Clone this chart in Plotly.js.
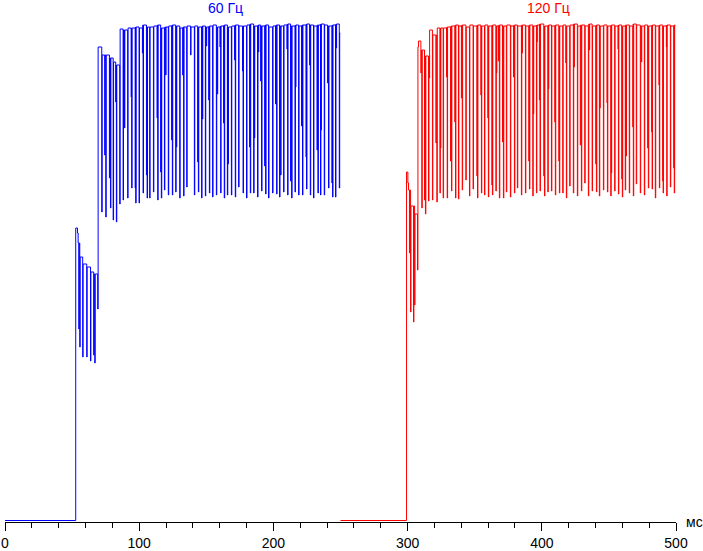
<!DOCTYPE html>
<html>
<head>
<meta charset="utf-8">
<script src="https://cdn.plot.ly/plotly-3.0.1.min.js"></script>
<style>html,body{margin:0;padding:0;background:#fff;}#chart{width:703px;height:551px;}</style>
</head>
<body>
<div id="chart"></div>
<script>
// Time (ms) at which each event starts, value reached during the dip, and level held after it.
const blueT = [0, 52.7, 54.0, 54.5, 55.0, 55.7, 57.9, 60.9, 63.7, 66.1, 66.9, 69.1,
  72.1, 74.3, 75.1, 77.8, 78.6, 80.6, 82.5, 83.0, 85.5, 88.0, 89.0, 91.4, 94.0, 94.4, 97.0, 97.4, 99.9,
  102.4, 102.9, 105.4, 105.9, 107.8, 110.6, 113.3, 113.8, 116.0, 116.5, 118.8, 119.7, 121.7, 124.2, 124.7,
  127.2, 127.7, 130.2, 132.4, 133.1, 135.4, 138.3, 141.1, 143.6, 144.1, 146.5, 147.1, 149.3, 150.0,
  151.8, 152.3, 154.7, 157.5, 158.2, 160.2, 160.7, 162.9, 163.4, 165.7, 166.2, 168.7, 171.1, 171.6,
  174.1, 177.0, 177.4, 180.0, 182.3, 182.8, 185.3, 185.8, 188.2, 188.8, 190.5, 191.2, 193.5, 194.2,
  196.4, 199.4, 201.6, 202.4, 204.6, 205.4, 207.6, 210.1, 210.6, 212.8, 213.6, 216.1, 216.5, 218.8,
  221.0, 221.7, 224.3, 224.7, 227.0, 227.5, 229.9, 232.5, 233.2, 235.1, 235.4, 237.9, 240.4, 241.1,
  243.6, 244.1, 246.3, 246.8, 249.1, 249.8];
const blueDip = [0.3, 58.8, 57.8, 55.8, 38.6, 35.0, 33.0, 33.0, 32.2, 33.4, 31.8, 42.6,
  62.0, 73.4, 61.0, 68.8, 62.8, 60.4, 84.0, 60.0, 63.6, 64.4, 78.8, 64.8, 85.0, 66.8, 66.8, 63.8, 63.8,
  93.8, 65.8, 69.4, 64.8, 64.8, 66.0, 80.8, 64.4, 70.0, 64.8, 66.4, 89.4, 65.4, 76.4, 65.4,
  66.0, 75.0, 64.8, 89.4, 65.2, 67.0, 93.4, 65.4, 72.0, 66.0, 64.8, 80.6, 65.2, 95.2,
  84.4, 65.8, 65.0, 65.4, 85.6, 95.0, 65.8, 79.8, 64.8, 65.4, 71.6, 65.4, 92.4, 65.0,
  67.0, 90.2, 65.8, 64.8, 75.0, 65.8, 65.8, 76.8, 65.0, 94.0, 88.2, 66.2, 71.2, 65.6,
  64.8, 65.8, 83.6, 65.6, 65.0, 69.4, 66.0, 94.6, 65.4, 68.2, 64.8, 66.0, 87.0, 65.4,
  79.2, 65.4, 73.0, 66.6, 91.4, 65.4, 64.8, 74.4, 65.8, 65.4, 78.4, 65.4, 87.8, 66.8,
  67.8, 65.0, 65.0, 94.8, 66.8, 97.8];
const blueLevel = [0.3, 58.8, 57.8, 55.8, 55.8, 53.0, 51.6, 51.0, 50.0, 49.6, 49.6, 95.0,
  93.4, 93.4, 93.4, 92.8, 92.8, 92.0, 91.4, 91.4, 98.6, 98.4, 98.4, 98.8, 98.8, 98.8, 99.0, 99.0, 98.8,
  99.4, 99.4, 99.0, 99.0, 99.0, 99.2, 99.4, 99.4, 98.8, 98.8, 99.0, 99.0, 99.2, 99.4, 99.4,
  99.2, 99.2, 98.8, 99.0, 99.0, 99.2, 99.0, 99.2, 99.0, 99.0, 99.2, 99.2, 99.0, 99.0,
  99.2, 99.2, 99.4, 99.0, 99.0, 99.2, 99.2, 99.4, 99.4, 99.0, 99.0, 99.2, 99.4, 99.4,
  99.2, 99.2, 99.2, 99.4, 99.6, 99.6, 99.2, 99.2, 99.4, 99.4, 99.2, 99.2, 99.4, 99.4,
  99.0, 99.2, 99.4, 99.4, 99.2, 99.2, 99.4, 99.6, 99.6, 99.2, 99.2, 99.4, 99.4, 99.2,
  99.4, 99.4, 99.6, 99.6, 99.4, 99.4, 99.2, 99.4, 99.4, 99.6, 99.6, 99.4, 99.2, 99.2,
  99.4, 99.4, 99.6, 99.6, 97.8, 97.8];

const redT = [250.0, 299.2, 300.2, 300.7, 301.4, 302.2, 304.4, 305.2, 307.4, 308.1,
  309.9, 310.6, 312.6, 313.3, 315.6, 316.1, 318.5, 321.1, 321.8, 324.1, 324.5, 326.5, 329.0, 329.5,
  332.0, 332.7, 335.2, 335.7, 337.9, 340.1, 340.7, 343.4, 346.1, 348.8, 351.6, 352.1, 354.6, 355.0,
  357.3, 359.8, 360.2, 362.8, 363.2, 365.8, 366.2, 367.7, 368.4, 370.7, 371.4, 373.6, 376.6, 378.9,
  379.6, 381.8, 384.8, 385.3, 387.8, 390.3, 390.8, 393.3, 393.7, 396.0, 396.3, 398.2, 398.7, 401.5,
  402.0, 404.5, 404.9, 407.2, 409.7, 410.1, 412.7, 413.1, 415.6, 417.9, 418.3, 420.8, 423.5, 424.0,
  426.5, 428.7, 429.5, 432.0, 434.7, 435.4, 437.5, 440.2, 440.7, 442.9, 443.2, 445.9, 448.6, 448.9,
  451.4, 451.8, 454.3, 456.8, 457.1, 459.6, 460.0, 462.2, 462.8, 465.2, 467.8, 468.2, 470.4, 473.4,
  474.2, 476.4, 478.9, 479.4, 481.9, 482.2, 484.6, 487.3, 487.6, 490.1, 490.4, 492.8, 493.1, 495.8,
  498.3, 498.7, 499.5];
const redDip = [0.3, 70.0, 67.8, 66.4, 53.8, 42.0, 40.0, 43.4, 50.4, 96.2,
  89.8, 62.8, 64.4, 61.6, 64.2, 88.8, 64.4, 75.8, 64.0, 65.8, 74.8, 64.8, 89.0, 64.8,
  72.2, 66.2, 80.0, 64.8, 64.6, 84.8, 66.4, 68.4, 65.2, 66.6, 69.2, 64.8, 85.4, 65.8,
  65.4, 80.8, 65.0, 67.4, 65.4, 66.2, 89.8, 92.2, 64.8, 76.0, 64.8, 66.0, 65.0, 89.0,
  65.8, 66.8, 65.4, 93.8, 65.8, 72.2, 66.6, 65.2, 81.6, 65.8, 96.0, 84.4, 66.2, 69.2,
  65.2, 66.0, 86.6, 66.2, 80.0, 65.4, 72.2, 65.8, 65.8, 91.8, 64.8, 67.2, 65.8, 91.0,
  65.2, 75.4, 66.2, 67.8, 65.2, 94.4, 66.2, 71.6, 66.0, 65.2, 82.8, 66.4, 83.8, 66.0,
  65.2, 69.8, 66.2, 94.6, 65.6, 68.6, 65.0, 66.4, 73.2, 65.8, 79.0, 65.2, 67.6, 65.8,
  92.0, 65.4, 74.8, 66.8, 78.0, 66.6, 64.8, 87.4, 66.8, 68.2, 65.8, 95.0, 65.2, 67.0,
  70.8, 65.8, 99.4];
const redLevel = [0.3, 70.0, 67.8, 66.4, 66.4, 63.2, 63.2, 61.6, 95.0, 96.2,
  94.4, 94.4, 93.2, 93.2, 93.2, 98.4, 97.4, 97.4, 98.8, 98.8, 98.8, 98.8, 99.0, 99.0,
  99.2, 99.2, 99.4, 99.4, 99.2, 99.4, 99.4, 99.0, 99.4, 99.2, 99.4, 99.4, 99.2, 99.2,
  99.4, 99.2, 99.2, 99.4, 99.4, 99.2, 99.2, 99.4, 99.4, 99.2, 99.2, 99.4, 99.2, 99.4,
  99.4, 99.2, 99.4, 99.4, 99.2, 99.4, 99.4, 99.2, 99.2, 99.4, 99.4, 99.6, 99.6, 99.2,
  99.2, 99.4, 99.4, 99.2, 99.4, 99.4, 99.2, 99.2, 99.4, 99.2, 99.2, 99.4, 99.6, 99.6,
  99.2, 99.4, 99.4, 99.2, 99.6, 99.6, 99.2, 99.4, 99.4, 99.2, 99.2, 99.4, 99.2, 99.2,
  99.4, 99.4, 99.2, 99.4, 99.4, 99.2, 99.2, 99.4, 99.4, 99.2, 99.6, 99.6, 99.4, 99.2,
  99.2, 99.4, 99.2, 99.2, 99.4, 99.4, 99.2, 99.4, 99.4, 99.2, 99.2, 99.4, 99.4, 99.2,
  99.4, 99.4, 99.4];

const seriesNames = ['60 Гц', '120 Гц'];
const xTickVals = [0, 100, 200, 300, 400, 500];
const xUnit = 'мс';

const DIP_W = 0.3; // ms width of each dip sample

function buildSeries(T, D, L) {
  const x = [], y = [];
  for (let i = 0; i < T.length; i++) {
    x.push(T[i]); y.push(D[i]);
    if (D[i] !== L[i]) { x.push(T[i] + DIP_W); y.push(L[i]); }
  }
  return {x, y};
}

const b = buildSeries(blueT, blueDip, blueLevel);
const r = buildSeries(redT, redDip, redLevel);

const FONT = 'Liberation Sans, Arial, sans-serif';

const traces = [
  {x: b.x, y: b.y, type: 'scatter', mode: 'lines', name: seriesNames[0],
   line: {color: '#0000ff', width: 1, shape: 'hv'}, hoverinfo: 'skip'},
  {x: r.x, y: r.y, type: 'scatter', mode: 'lines', name: seriesNames[1],
   line: {color: '#ff0000', width: 1, shape: 'hv'}, hoverinfo: 'skip'}
];

const layout = {
  width: 703, height: 551,
  margin: {l: 4.5, r: 26.5, t: 12, b: 29, pad: 0},
  paper_bgcolor: '#ffffff', plot_bgcolor: '#ffffff',
  showlegend: false,
  font: {family: FONT, size: 14, color: '#000'},
  xaxis: {
    range: [0, 500], showgrid: false, zeroline: false,
    showline: true, linecolor: '#000', linewidth: 1,
    ticks: 'outside', ticklen: 8, tickwidth: 1, tickcolor: '#000',
    tickvals: xTickVals, ticktext: xTickVals.map(String),
    tickfont: {family: FONT, size: 14, color: '#000'},
    minor: {dtick: 20, tick0: 0, ticks: 'outside', ticklen: 5, tickwidth: 1, tickcolor: '#000', showgrid: false}
  },
  yaxis: {range: [0, 102], visible: false, showgrid: false, zeroline: false},
  annotations: [
    {x: 164, xref: 'x', y: 1, yref: 'paper', yanchor: 'middle', yshift: 4, xanchor: 'center',
     text: seriesNames[0], showarrow: false, font: {family: FONT, size: 14, color: '#0000ff'}},
    {x: 405, xref: 'x', y: 1, yref: 'paper', yanchor: 'middle', yshift: 4, xanchor: 'center',
     text: seriesNames[1], showarrow: false, font: {family: FONT, size: 14, color: '#ff0000'}},
    {x: 500, xref: 'x', y: 0, yref: 'paper', yanchor: 'middle', xanchor: 'left', xshift: 8,
     text: xUnit, showarrow: false, font: {family: FONT, size: 14, color: '#000'}}
  ]
};

Plotly.newPlot('chart', traces, layout, {staticPlot: true, displayModeBar: false});
</script>
</body>
</html>
